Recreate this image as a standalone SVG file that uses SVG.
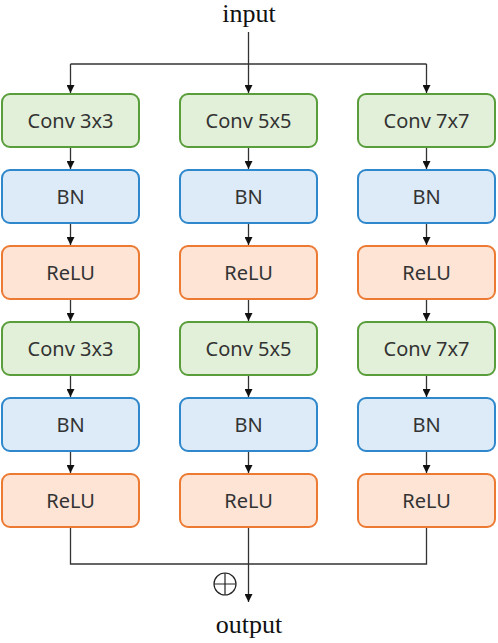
<svg xmlns="http://www.w3.org/2000/svg" width="498" height="643" viewBox="0 0 498 643">
<style>
.box{stroke-width:2}
.conv{fill:#e2f0d9;stroke:#5a9e3c}
.bn{fill:#dcebf7;stroke:#2f87cc}
.relu{fill:#fde4d5;stroke:#ec7a33}
.lbl{font-family:"Noto Sans","Liberation Sans",sans-serif;font-size:20px;fill:#333;text-anchor:middle;dominant-baseline:central}
.io{font-family:"Liberation Serif","Times New Roman",serif;font-size:26px;fill:#111;text-anchor:middle}
.ln{stroke:#333;stroke-width:1.3;fill:none}
</style>
<defs>
<marker id="ah" viewBox="0 0 10 10" refX="10" refY="5" markerWidth="8" markerHeight="8" markerUnits="userSpaceOnUse" orient="auto">
<path d="M0,0 L10,5 L0,10 z" fill="#111"/>
</marker>
</defs>
<text class="io" x="249" y="22">input</text>
<text class="io" x="249" y="633">output</text>
<g id="connectors">
<path class="ln" d="M248.5,32 V93" marker-end="url(#ah)"/>
<path class="ln" d="M70.5,64 H426.5"/>
<path class="ln" d="M70.5,64 V93" marker-end="url(#ah)"/>
<path class="ln" d="M426.5,64 V93" marker-end="url(#ah)"/>
<g id="col1-links">
<path class="ln" d="M70.5,148 V169" marker-end="url(#ah)"/>
<path class="ln" d="M70.5,224 V245" marker-end="url(#ah)"/>
<path class="ln" d="M70.5,300 V321" marker-end="url(#ah)"/>
<path class="ln" d="M70.5,376 V397" marker-end="url(#ah)"/>
<path class="ln" d="M70.5,452 V473" marker-end="url(#ah)"/>
</g>
<g id="col2-links">
<path class="ln" d="M248.5,148 V169" marker-end="url(#ah)"/>
<path class="ln" d="M248.5,224 V245" marker-end="url(#ah)"/>
<path class="ln" d="M248.5,300 V321" marker-end="url(#ah)"/>
<path class="ln" d="M248.5,376 V397" marker-end="url(#ah)"/>
<path class="ln" d="M248.5,452 V473" marker-end="url(#ah)"/>
</g>
<g id="col3-links">
<path class="ln" d="M426.5,148 V169" marker-end="url(#ah)"/>
<path class="ln" d="M426.5,224 V245" marker-end="url(#ah)"/>
<path class="ln" d="M426.5,300 V321" marker-end="url(#ah)"/>
<path class="ln" d="M426.5,376 V397" marker-end="url(#ah)"/>
<path class="ln" d="M426.5,452 V473" marker-end="url(#ah)"/>
</g>
<path class="ln" d="M70.5,527 V564 H426.5 V527"/>
<path class="ln" d="M248.5,527 V602" marker-end="url(#ah)"/>
<g id="sum">
<circle cx="225" cy="584" r="11" fill="none" stroke="#222" stroke-width="1.2"/>
<path d="M214,584 H236 M225,573 V595" stroke="#222" stroke-width="1.2"/>
</g>
</g>
<g id="n-c1-conv1"><rect class="box conv" x="2" y="94" width="137" height="53" rx="8"/><text class="lbl" x="70.5" y="120.5">Conv 3x3</text></g>
<g id="n-c1-bn1"><rect class="box bn" x="2" y="170" width="137" height="53" rx="8"/><text class="lbl" x="70.5" y="196.5">BN</text></g>
<g id="n-c1-relu1"><rect class="box relu" x="2" y="246" width="137" height="53" rx="8"/><text class="lbl" x="70.5" y="272.5">ReLU</text></g>
<g id="n-c1-conv2"><rect class="box conv" x="2" y="322" width="137" height="53" rx="8"/><text class="lbl" x="70.5" y="348.5">Conv 3x3</text></g>
<g id="n-c1-bn2"><rect class="box bn" x="2" y="398" width="137" height="53" rx="8"/><text class="lbl" x="70.5" y="424.5">BN</text></g>
<g id="n-c1-relu2"><rect class="box relu" x="2" y="474" width="137" height="53" rx="8"/><text class="lbl" x="70.5" y="500.5">ReLU</text></g>
<g id="n-c2-conv1"><rect class="box conv" x="180" y="94" width="137" height="53" rx="8"/><text class="lbl" x="248.5" y="120.5">Conv 5x5</text></g>
<g id="n-c2-bn1"><rect class="box bn" x="180" y="170" width="137" height="53" rx="8"/><text class="lbl" x="248.5" y="196.5">BN</text></g>
<g id="n-c2-relu1"><rect class="box relu" x="180" y="246" width="137" height="53" rx="8"/><text class="lbl" x="248.5" y="272.5">ReLU</text></g>
<g id="n-c2-conv2"><rect class="box conv" x="180" y="322" width="137" height="53" rx="8"/><text class="lbl" x="248.5" y="348.5">Conv 5x5</text></g>
<g id="n-c2-bn2"><rect class="box bn" x="180" y="398" width="137" height="53" rx="8"/><text class="lbl" x="248.5" y="424.5">BN</text></g>
<g id="n-c2-relu2"><rect class="box relu" x="180" y="474" width="137" height="53" rx="8"/><text class="lbl" x="248.5" y="500.5">ReLU</text></g>
<g id="n-c3-conv1"><rect class="box conv" x="358" y="94" width="137" height="53" rx="8"/><text class="lbl" x="426.5" y="120.5">Conv 7x7</text></g>
<g id="n-c3-bn1"><rect class="box bn" x="358" y="170" width="137" height="53" rx="8"/><text class="lbl" x="426.5" y="196.5">BN</text></g>
<g id="n-c3-relu1"><rect class="box relu" x="358" y="246" width="137" height="53" rx="8"/><text class="lbl" x="426.5" y="272.5">ReLU</text></g>
<g id="n-c3-conv2"><rect class="box conv" x="358" y="322" width="137" height="53" rx="8"/><text class="lbl" x="426.5" y="348.5">Conv 7x7</text></g>
<g id="n-c3-bn2"><rect class="box bn" x="358" y="398" width="137" height="53" rx="8"/><text class="lbl" x="426.5" y="424.5">BN</text></g>
<g id="n-c3-relu2"><rect class="box relu" x="358" y="474" width="137" height="53" rx="8"/><text class="lbl" x="426.5" y="500.5">ReLU</text></g>
</svg>
